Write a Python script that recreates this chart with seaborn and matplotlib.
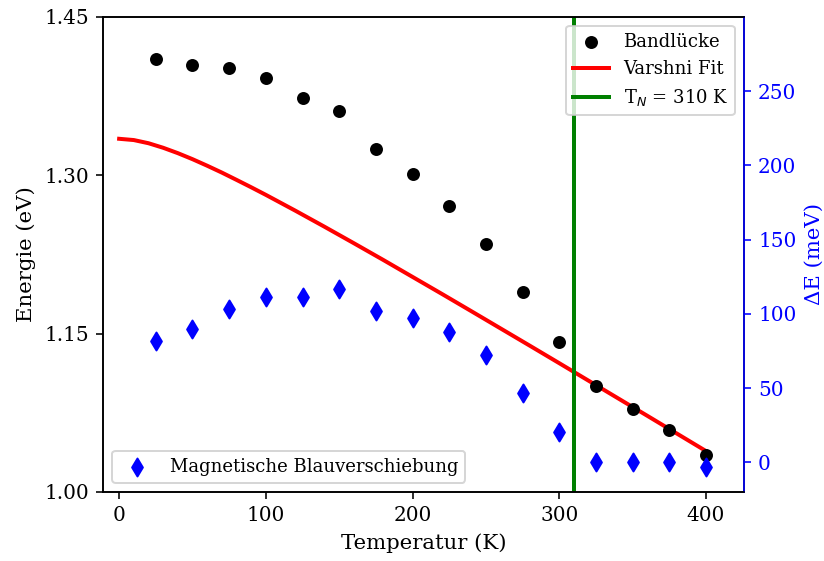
import matplotlib
matplotlib.use("Agg")
import matplotlib.pyplot as plt
import seaborn as sns
import pandas as pd

plt.rcParams["font.family"] = ["DejaVu Serif", "DejaVu Sans"]
plt.rcParams["mathtext.fontset"] = "dejavusans"

# Measured band gap and magnetic blue shift
temperatur = [25, 50, 75, 100, 125, 150, 175, 200, 225, 250, 275, 300, 325, 350, 375, 400]
bandluecke = [1.410, 1.404, 1.402, 1.392, 1.373, 1.361, 1.325, 1.301, 1.271, 1.235,
              1.189, 1.142, 1.100, 1.079, 1.059, 1.035]
blauverschiebung = [82, 89.5, 103, 111, 111, 117, 102, 97.5, 88, 72, 47, 20.5, 0, 0, 0, -3]

# Varshni fit curve
fit_t = [0, 10, 20, 30, 40, 50, 60, 70, 80, 90, 100, 120, 140, 160, 180, 200, 220,
         240, 260, 280, 300, 320, 340, 360, 380, 400]
fit_e = [1.3345, 1.3333, 1.3303, 1.3260, 1.3209, 1.3152, 1.3090, 1.3025, 1.2956,
         1.2886, 1.2814, 1.2665, 1.2512, 1.2356, 1.2198, 1.2037, 1.1876, 1.1713,
         1.1549, 1.1385, 1.1220, 1.1054, 1.0888, 1.0722, 1.0555, 1.0388]

t_neel = 310

messung = pd.DataFrame({"T": temperatur, "E": bandluecke, "dE": blauverschiebung})
fit = pd.DataFrame({"T": fit_t, "E": fit_e})

fig, ax = plt.subplots(figsize=(824 / 144, 561 / 144), dpi=144)
fig.subplots_adjust(left=0.125, right=0.903, top=0.970, bottom=0.123)

sns.scatterplot(data=messung, x="T", y="E", ax=ax, color="black", marker="o",
                s=30, edgecolor="black", linewidth=1, label="Bandlücke", zorder=3)
sns.lineplot(data=fit, x="T", y="E", ax=ax, color="red", linewidth=2,
             label="Varshni Fit", zorder=2)
ax.axvline(t_neel, color="green", linewidth=2, label=r"T$_N$ = 310 K")

ax.set_xlim(-11, 426)
ax.set_ylim(1.0, 1.45)
ax.set_yticks([1.00, 1.15, 1.30, 1.45])
ax.set_xticks([0, 100, 200, 300, 400])
ax.set_xlabel("Temperatur (K)", fontsize=10.6)
ax.set_ylabel("Energie (eV)", fontsize=10.6)
ax.legend(loc="upper right", fontsize=9)

ax2 = ax.twinx()
sns.scatterplot(data=messung, x="T", y="dE", ax=ax2, color="blue", marker="d",
                s=40, edgecolor="blue", linewidth=1,
                label="Magnetische Blauverschiebung")
ax2.set_ylim(-20, 300)
ax2.set_yticks([0, 50, 100, 150, 200, 250])
ax2.set_ylabel("ΔE (meV)", color="blue", fontsize=10.6)
ax2.tick_params(axis="y", colors="blue")
ax2.spines["right"].set_color("blue")
ax2.legend(loc="lower left", fontsize=9)

fig.savefig("out.png", dpi=144)
